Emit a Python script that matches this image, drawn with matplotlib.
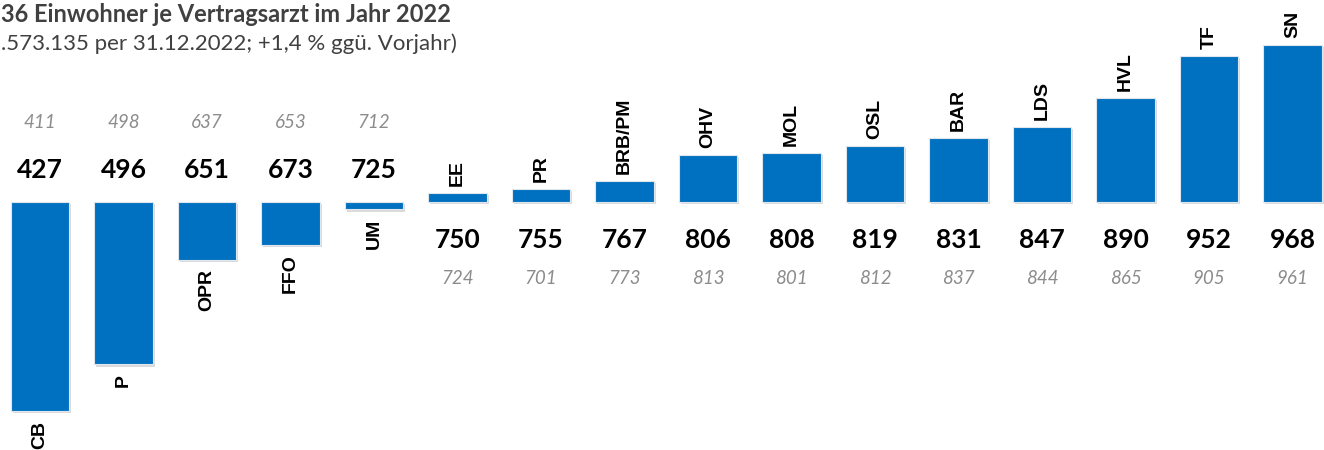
import matplotlib.pyplot as plt
import matplotlib.patheffects as pe
import numpy as np

# Einwohner je Vertragsarzt 2022 (Vorjahr in grau)
kreise = ['CB', 'P', 'OPR', 'FFO', 'UM', 'EE', 'PR', 'BRB/PM', 'OHV', 'MOL',
          'OSL', 'BAR', 'LDS', 'HVL', 'TF', 'SN']
werte_2022 = [427, 496, 651, 673, 725, 750, 755, 767, 806, 808, 819, 831, 847, 890, 952, 968]
werte_2021 = [411, 498, 637, 653, 712, 724, 701, 773, 813, 801, 812, 837, 844, 865, 905, 961]
durchschnitt = 736

# Titel wie im Ausschnitt sichtbar (links angeschnitten)
titel = '36 Einwohner je Vertragsarzt im Jahr 2022'
untertitel = '.573.135 per 31.12.2022; +1,4 % ggü. Vorjahr)'

blau = '#0070C0'
grau = '#8c8c8c'

fig = plt.figure(figsize=(13.24, 4.5), dpi=100)
ax = fig.add_axes([0, 0, 1, 1])

x = np.arange(len(kreise))
diff = np.array(werte_2022) - durchschnitt

bars = ax.bar(x, diff, bottom=durchschnitt, width=0.7, color=blau,
              edgecolor='#dfe6ee', linewidth=0.8)
for b in bars:
    b.set_path_effects([pe.SimplePatchShadow(offset=(1.5, -1.5), shadow_rgbFace='#999999', alpha=0.35),
                        pe.Normal()])

for i, (kreis, w, w_alt, d) in enumerate(zip(kreise, werte_2022, werte_2021, diff)):
    if d < 0:
        # Werte oberhalb, Kreisname unterhalb des Balkens
        ax.annotate(str(w), (i, durchschnitt), xytext=(0, 23), textcoords='offset points',
                    ha='center', va='center', fontsize=19, fontweight='bold',
                    family='Lato', color='black')
        ax.annotate(str(w_alt), (i, durchschnitt), xytext=(0, 57), textcoords='offset points',
                    ha='center', va='center', fontsize=13.5, style='italic',
                    family='Lato', color=grau)
        ax.annotate(kreis, (i, w), xytext=(0, -7), textcoords='offset points',
                    ha='center', va='top', rotation=90, fontsize=14,
                    fontweight='bold', family='Liberation Sans')
    else:
        ax.annotate(str(w), (i, durchschnitt), xytext=(0, -27), textcoords='offset points',
                    ha='center', va='center', fontsize=19, fontweight='bold',
                    family='Lato', color='black')
        ax.annotate(str(w_alt), (i, durchschnitt), xytext=(0, -55), textcoords='offset points',
                    ha='center', va='center', fontsize=13.5, style='italic',
                    family='Lato', color=grau)
        ax.annotate(kreis, (i, w), xytext=(0, 5), textcoords='offset points',
                    ha='center', va='bottom', rotation=90, fontsize=14,
                    fontweight='bold', family='Liberation Sans')

# Skala: Mittelwert liegt bei ca. 202 px von oben
scale = 0.677
ax.set_ylim(durchschnitt - 248 / scale, durchschnitt + 202 / scale)
ax.set_xlim(-40 / 83.5, (1324 - 40) / 83.5)
ax.axis('off')

fig.text(1 / 1324, 1 - 14 / 450, titel, ha='left', va='center', fontsize=17,
         fontweight='bold', family='Lato', color='#404040')
fig.text(1 / 1324, 1 - 44 / 450, untertitel, ha='left', va='center', fontsize=16,
         family='Lato', color='#404040')

fig.savefig('out.png', dpi=100)
